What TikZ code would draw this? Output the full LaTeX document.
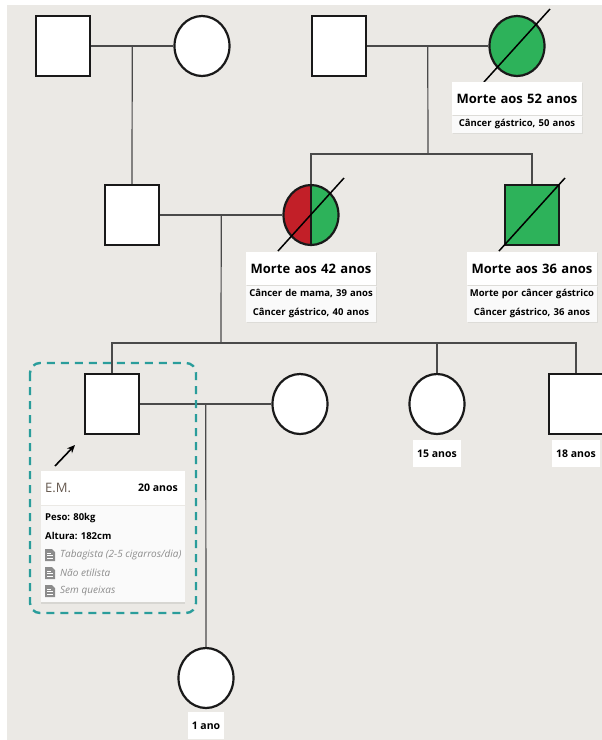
\documentclass[tikz,border=0pt]{standalone}
\usepackage{fontspec}
\setmainfont{Open Sans}
\usetikzlibrary{positioning}                         %allows relative placement.
\usetikzlibrary{shapes.geometric}                    %allows the ellipse shape.
\usetikzlibrary{calc}                                %allows coordinate calculations.
\usetikzlibrary{arrows.meta,shadows}

\definecolor{paper}{HTML}{EBE9E5}
\definecolor{gastric}{HTML}{2DB25A}
\definecolor{mama}{HTML}{C21F28}
\definecolor{probandteal}{HTML}{2A9D9B}
\definecolor{linegray}{HTML}{4A4A4A}
\definecolor{notegray}{HTML}{8C8C8C}
\definecolor{namebrown}{HTML}{66594F}

\tikzset{docicon/.pic={
    \fill[notegray] (0,-6) -- (7,-6) -- (10,-3) -- (10,6) -- (0,6) -- cycle;
    \draw[white,line width=0.8pt] (2,-2) -- (6,-2) (2,0.8) -- (8,0.8) (2,3.5) -- (8,3.5);
}}

\begin{document}
\begin{tikzpicture}[x=1pt,y=-1pt,
    male/.style={draw=black!90,line width=2.2pt,fill=white,minimum width=54pt,minimum height=60pt,inner sep=0pt},
    female/.style={ellipse,draw=black!90,line width=2.2pt,fill=white,minimum width=55pt,minimum height=60pt,inner sep=0pt},
    rel/.style={draw=linegray,line width=1.2pt},
    deadline/.style={draw=black,line width=1.5pt},
    titlebox/.style={fill=white,text width=126pt,align=center,minimum height=33pt,inner xsep=2pt,inner ysep=4pt,
        drop shadow={shadow xshift=0.8pt,shadow yshift=-0.8pt,opacity=0.12},
        font=\bfseries\fontsize{13}{15}\selectfont},
    subbox/.style={fill=black!2,text width=126pt,align=center,inner xsep=2pt,inner ysep=4pt,
        drop shadow={shadow xshift=0.8pt,shadow yshift=-0.8pt,opacity=0.12},
        font=\bfseries\fontsize{9.5}{18.5}\selectfont},
    agebox/.style={fill=white,inner sep=4pt,minimum height=27pt,font=\bfseries\fontsize{10.5}{12}\selectfont},
    cardline/.style={anchor=west,inner sep=0pt,font=\bfseries\fontsize{9.5}{11}\selectfont},
    cardnote/.style={anchor=west,inner sep=0pt,text=notegray,font=\itshape\fontsize{10}{12}\selectfont}]

    % Page and background
    \useasboundingbox (0,0) rectangle (602,740);
    \fill[white] (0,0) rectangle (602,740);
    \fill[paper] (7,5) rectangle (602,740);

    % Marker for a deceased person
    \def\deceased#1{\draw[deadline] ([shift={(-33,36)}]#1.center) -- ([shift={(33,-37)}]#1.center);}

    % Generation I
    \node[male]   (gpa)  at (63,46)  {};
    \node[female] (gma)  at (202,46) {};
    \node[male]   (mgpa) at (339,46) {};
    \node[female,fill=gastric] (mgma) at (517,46) {};
    \deceased{mgma}

    % Generation II
    \node[male]   (dad)  at (132,215) {};
    \node[female,path picture={
        \fill[mama] (path picture bounding box.north west) rectangle (path picture bounding box.south);
        \fill[gastric] (path picture bounding box.north) rectangle (path picture bounding box.south east);
        \draw[black!90,line width=1.8pt] (path picture bounding box.north) -- (path picture bounding box.south);
    }] (mom) at (311,215) {};
    \node[male,fill=gastric] (uncle) at (532,215) {};
    \deceased{mom}
    \deceased{uncle}

    % Generation III
    \node[male]   (em)   at (112,404) {};
    \node[female] (wife) at (300,404) {};
    \node[female] (sis)  at (437,404) {};
    \node[male]   (bro)  at (576,404) {};

    % Generation IV
    \node[female] (baby) at (206,678) {};

    % Couples and lines of descent
    \coordinate (m1) at ($(gpa.east)!0.5!(gma.west)$);
    \coordinate (m2) at ($(mgpa.east)!0.5!(mgma.west)$);
    \coordinate (m3) at ($(dad.east)!0.5!(mom.west)$);
    \coordinate (m4) at ($(em.east)!0.5!(wife.west)$);
    \coordinate (bar2) at (428,154);
    \coordinate (bar3) at (221,343);
    \draw[rel] (gpa) -- (gma);
    \draw[rel] (mgpa) -- (mgma);
    \draw[rel] (dad) -- (mom);
    \draw[rel] (em) -- (wife);
    \draw[rel] (m1) -- (dad.north);
    \draw[rel] (m2) -- (bar2);
    \draw[rel] (mom.north) |- (bar2) -| (uncle.north);
    \draw[rel] (m3) -- (bar3);
    \draw[rel] (em.north) |- (bar3) -| (bro.north);
    \draw[rel] (sis.north) -- (sis.north |- bar3);
    \draw[rel] (m4) -- (baby.north);

    % Labels of the deceased
    \node[titlebox,below=5pt of mgma] (t52) {Morte aos 52 anos};
    \node[subbox,below=0pt of t52] (s52) {Câncer gástrico, 50 anos};
    \node[titlebox,below=6pt of mom] (t42) {Morte aos 42 anos};
    \node[subbox,below=0pt of t42] (s42) {Câncer de mama, 39 anos\\Câncer gástrico, 40 anos};
    \node[titlebox,below=6pt of uncle] (t36) {Morte aos 36 anos};
    \node[subbox,below=0pt of t36] (s36) {Morte por câncer gástrico\\Câncer gástrico, 36 anos};

    % Ages
    \node[agebox,below=5pt of sis]  (a15) {15 anos};
    \node[agebox,below=5pt of bro]  (a18) {18 anos};
    \node[agebox,below=3pt of baby] (a1)  {1 ano};

    % Proband
    \draw[probandteal,line width=2.4pt,dash pattern=on 8pt off 6pt,rounded corners=10pt]
        (30,363) rectangle (196,613);
    \coordinate (arrtail) at (55,466);
    \coordinate (arrhead) at (75,445);
    \draw[-{Stealth[length=8pt,width=7pt]},line width=1.6pt] (arrtail) -- (arrhead);

    \node[fill=white,minimum width=144pt,minimum height=34pt,inner sep=0pt,anchor=north west] (cardhead) at (41,471) {};
    \node[fill=black!2,minimum width=144pt,minimum height=96pt,inner sep=0pt,anchor=north west,
        drop shadow={shadow xshift=0pt,shadow yshift=-2pt,opacity=0.18}] (cardbody) at (41,506) {};
    \node[anchor=west,inner sep=0pt,text=namebrown,font=\fontsize{13}{15}\selectfont] (emname) at (45,488) {E.M.};
    \node[anchor=east,inner sep=0pt,font=\bfseries\fontsize{10.5}{12}\selectfont] (emage) at (178,488) {20 anos};
    \node[cardline] (peso)   at (45,518) {Peso: 80kg};
    \node[cardline] (altura) at (45,536) {Altura: 182cm};
    \pic at (45,555) {docicon};
    \node[cardnote] (tabaco) at (60,555) {Tabagista (2-5 cigarros/dia)};
    \pic at (45,573) {docicon};
    \node[cardnote] (alcool) at (60,573) {Não etilista};
    \pic at (45,591) {docicon};
    \node[cardnote] (queixa) at (60,591) {Sem queixas};

\end{tikzpicture}
\end{document}
